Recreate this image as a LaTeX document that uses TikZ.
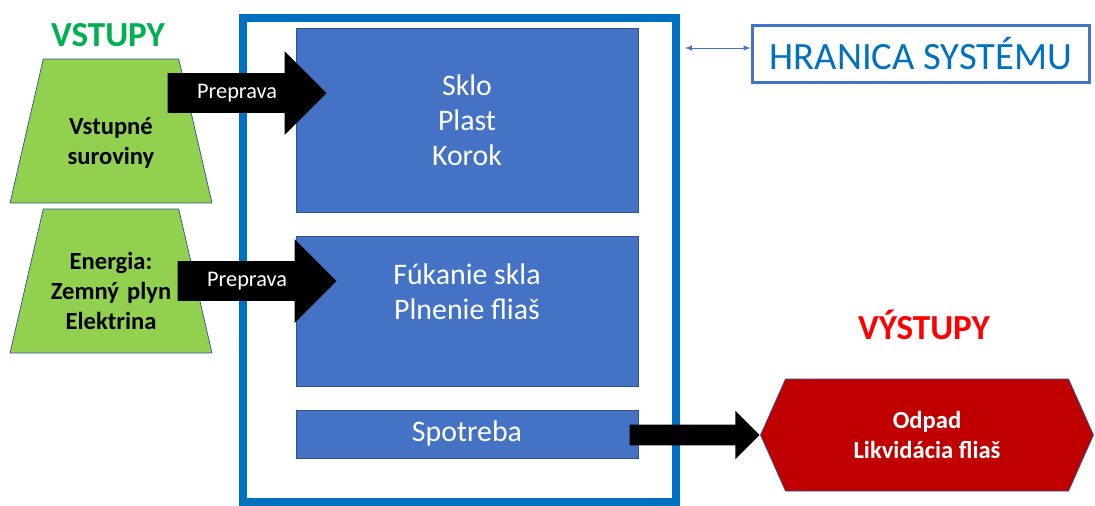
\documentclass[tikz,border=0pt]{standalone}
\usepackage{fontspec}
\setmainfont{Carlito}
\usepackage{tikz}
\usetikzlibrary{shapes,arrows,calc,positioning}

\definecolor{boxblue}{RGB}{68,114,196}
\definecolor{edgeblue}{RGB}{47,82,143}
\definecolor{linkblue}{RGB}{0,112,192}
\definecolor{leafgreen}{RGB}{146,208,80}
\definecolor{titlegreen}{RGB}{0,176,80}
\definecolor{wastered}{RGB}{192,0,0}

\begin{document}
\begin{tikzpicture}[x=0.02cm,y=-0.02cm]
\tikzset{
	blue box/.style = {rectangle, draw = edgeblue, fill = boxblue, text = white, minimum width = 6.84cm, font = \fontsize{17}{20}\selectfont, align = center},
	input node/.style = {trapezium, trapezium left angle = 77, trapezium right angle = 77, draw = edgeblue, fill = leafgreen, inner sep = 0, text width = 2.71cm, align = center, font = \fontsize{14}{17.3}\selectfont\bfseries},
	block arrow/.style = {single arrow, fill = black, anchor = tip, text = white, font = \fontsize{12.7}{14}\selectfont, text height = 0.3cm, text depth = 0.08cm, inner ysep = 0.2cm, single arrow head extend = 0.44cm},
	title node/.style = {font = \fontsize{20}{24}\selectfont\bfseries},
}

\useasboundingbox (0,0) rectangle (1095,505);

\node(hranica)[rectangle, draw = linkblue, line width = 0.16cm, minimum width = 8.68cm, minimum height = 9.68cm] at (459.5,260) {};

\node(sklo)[blue box, minimum height = 3.68cm] at (467,120) {Sklo\\Plast\\Korok};
\node(plnenie)[blue box, minimum height = 3cm, label = {[text = white, font = \fontsize{17}{20}\selectfont, align = center, anchor = north, yshift = -0.44cm]north:{Fúkanie skla\\Plnenie fliaš}}] at (467,311) {};
\node(spotreba)[blue box, minimum height = 0.96cm] at (467,434) {Spotreba};

\node(suroviny)[input node, text height = 1.5cm, text depth = 1.38cm] at (111,131) {Vstupné\\suroviny};
\node(energia)[input node, text height = 1.2cm, text depth = 1.68cm] at (111,281) {Energia:\\Zemný plyn\\Elektrina};

\node(vstupy)[title node, text = titlegreen] at (108,35) {VSTUPY};
\node(vystupy)[title node, text = red] at (924,325) {VÝSTUPY};

\node(odpad)[signal, signal to = west and east, signal pointer angle = 132, draw = edgeblue, fill = wastered, text = white, font = \fontsize{14}{17}\selectfont\bfseries, align = center, minimum width = 6.66cm, minimum height = 2.24cm] at (927,435) {Odpad\\Likvidácia fliaš};

\node(popis)[rectangle, draw = boxblue, line width = 0.06cm, text = linkblue, font = \fontsize{22}{26}\selectfont, minimum width = 6.76cm, minimum height = 1.14cm] at (921,53.5) {HRANICA SYSTÉMU};
\coordinate(popis hrot) at ([yshift = 0.11cm]popis.west);
\draw[<->, >=latex, boxblue, shorten <= 0.09cm] (hranica.east |- popis hrot) -- (popis hrot);

\node(preprava1)[block arrow, minimum height = 3.18cm] at (327,93) {Preprava};
\node(preprava2)[block arrow, minimum height = 3.18cm] at (337,281) {Preprava};
\node(likvidacia)[block arrow, minimum height = 2.6cm, text height = 0cm, text depth = 0cm, inner ysep = 0.2cm, single arrow head extend = 0.28cm] at (odpad.west) {};

\end{tikzpicture}
\end{document}
